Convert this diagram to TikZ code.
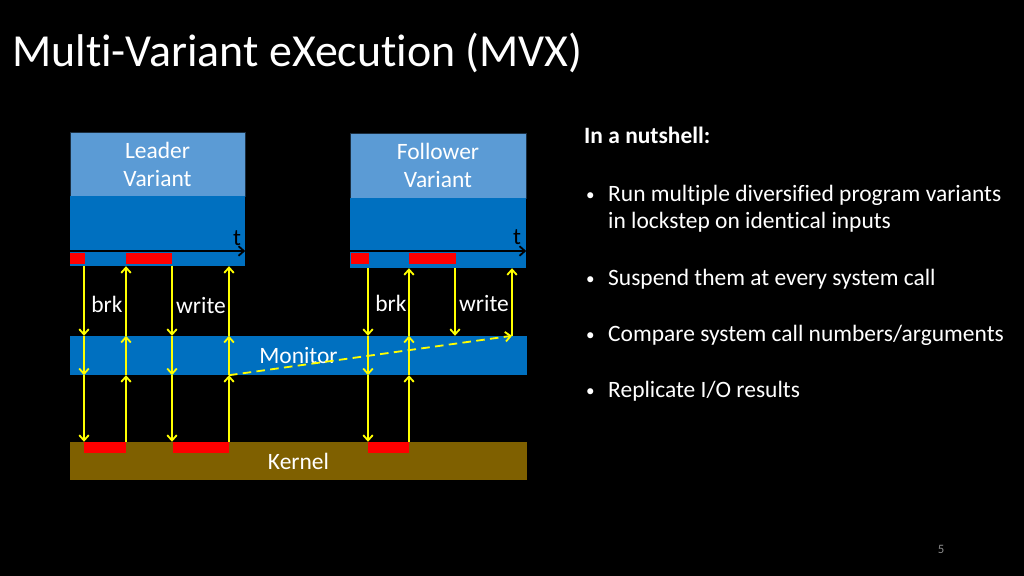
\documentclass[tikz,border=0pt]{standalone}
\usepackage{fontspec}
\setmainfont[Ligatures=NoCommon]{Carlito}
\usetikzlibrary{arrows.meta}
\definecolor{hdblue}{HTML}{5B9BD5}
\definecolor{bdblue}{HTML}{0070C0}
\definecolor{kbrown}{HTML}{7F6000}
\definecolor{pgray}{HTML}{8C8C8C}
\definecolor{sysyel}{HTML}{FFFF00}
\newcommand{\px}{0.9375pt}
\tikzset{
  layer/.style={inner sep=0pt, text=white, align=center, font=\fontsize{22}{26.25}\selectfont},
  label/.style={inner sep=0pt, anchor=base, text=white, font=\fontsize{22}{26}\selectfont},
  bodytext/.style={inner sep=0pt, anchor=base west, text=white, font=\fontsize{22}{26}\selectfont},
  sysline/.style={draw=sysyel, line width=1.7pt, -{Straight Barb[length=5pt,width=9pt]}},
  timeline/.style={draw=black, line width=1.7pt, -{Straight Barb[length=5pt,width=9pt]}},
}
\begin{document}
\begin{tikzpicture}[x=\px,y=-\px]
\fill[black] (0,0) rectangle (1024,576);
\useasboundingbox (0,0) rectangle (1024,576);
% title
\node[inner sep=0pt, anchor=base west, text=white, font=\fontsize{43}{50}\selectfont] (title) at (12,67) {Multi-Variant eXecution (MVX)};
% variants
\node[layer, fill=hdblue, draw=black!70!hdblue, minimum width=175*\px, minimum height=64*\px] (leadhead) at (157.5,164) {Leader\\Variant};
\node[layer, fill=bdblue, minimum width=175*\px, minimum height=70*\px] (leadbody) at (157.5,231) {};
\node[layer, fill=hdblue, draw=black!70!hdblue, minimum width=176*\px, minimum height=65*\px] (follhead) at (438,165.5) {Follower\\Variant};
\node[layer, fill=bdblue, minimum width=176*\px, minimum height=70*\px] (follbody) at (438,233) {};
% timelines
\fill[red] (70,253) rectangle (85,264);
\fill[red] (126,253) rectangle (172,264);
\fill[red] (351,253) rectangle (369,264);
\fill[red] (409,253) rectangle (456,264);
\draw[timeline] (leadbody.west |- 0,251) -- (leadbody.east |- 0,251);
\draw[timeline] (follbody.west |- 0,251) -- (follbody.east |- 0,251);
\node[label, text=black] (leadt) at (237,245) {t};
\node[label, text=black] (follt) at (517,244) {t};
% monitor and kernel
\node[layer, fill=bdblue, minimum width=457*\px, minimum height=39*\px] (monitor) at (298.5,355.5) {Monitor};
\node[layer, fill=kbrown, minimum width=457*\px, minimum height=38*\px] (kernel) at (298.5,461) {Kernel};
\fill[red] (84,442) rectangle (126,453);
\fill[red] (173,442) rectangle (229,453);
\fill[red] (368,442) rectangle (409,453);
% system calls
\foreach \cx in {84,172}{
  \draw[sysline] (\cx,0 |- leadbody.south) -- (\cx,0 |- monitor.north);
  \draw[sysline] (\cx,0 |- monitor.north) -- (\cx,0 |- monitor.south);
  \draw[sysline] (\cx,0 |- monitor.south) -- (\cx,0 |- kernel.north);
}
\foreach \cx in {126,229}{
  \draw[sysline] (\cx,0 |- kernel.north) -- (\cx,0 |- monitor.south);
  \draw[sysline] (\cx,0 |- monitor.south) -- (\cx,0 |- monitor.north);
  \draw[sysline] (\cx,0 |- monitor.north) -- (\cx,0 |- leadbody.south);
}
\draw[sysline] (368,0 |- follbody.south) -- (368,0 |- monitor.north);
\draw[sysline] (368,0 |- monitor.north) -- (368,0 |- monitor.south);
\draw[sysline] (368,0 |- monitor.south) -- (368,0 |- kernel.north);
\draw[sysline] (409,0 |- kernel.north) -- (409,0 |- monitor.south);
\draw[sysline] (409,0 |- monitor.south) -- (409,0 |- monitor.north);
\draw[sysline] (409,0 |- monitor.north) -- (409,0 |- follbody.south);
\draw[sysline] (455,0 |- follbody.south) -- (455,0 |- monitor.north);
\draw[sysline] (512,0 |- monitor.north) -- (512,0 |- follbody.south);
\draw[sysline, dashed, dash pattern=on 8pt off 5pt] (229,0 |- monitor.south) -- (512,0 |- monitor.north);
\node[label] (leadbrk) at (107,312) {brk};
\node[label] (leadwrite) at (201,313) {write};
\node[label] (follbrk) at (391,311) {brk};
\node[label] (follwrite) at (484,311) {write};
% summary
\node[bodytext, font=\fontsize{22}{26}\bfseries] (nutshell) at (584,144) {In a nutshell:};
\node[bodytext, font=\fontsize{16}{20}\selectfont] (dot1) at (586,200) {•};
\node[bodytext] (run) at (608,201) {Run multiple diversified program variants};
\node[bodytext] (lock) at (608,228) {in lockstep on identical inputs};
\node[bodytext, font=\fontsize{16}{20}\selectfont] (dot2) at (586,284) {•};
\node[bodytext] (susp) at (608,285) {Suspend them at every system call};
\node[bodytext, font=\fontsize{16}{20}\selectfont] (dot3) at (586,340) {•};
\node[bodytext] (comp) at (608,341) {Compare system call numbers/arguments};
\node[bodytext, font=\fontsize{16}{20}\selectfont] (dot4) at (586,396) {•};
\node[bodytext] (repl) at (608,397) {Replicate I/O results};
\node[inner sep=0pt, text=pgray, font=\fontsize{12}{14}\selectfont] (page) at (941,549) {5};
\end{tikzpicture}
\end{document}
